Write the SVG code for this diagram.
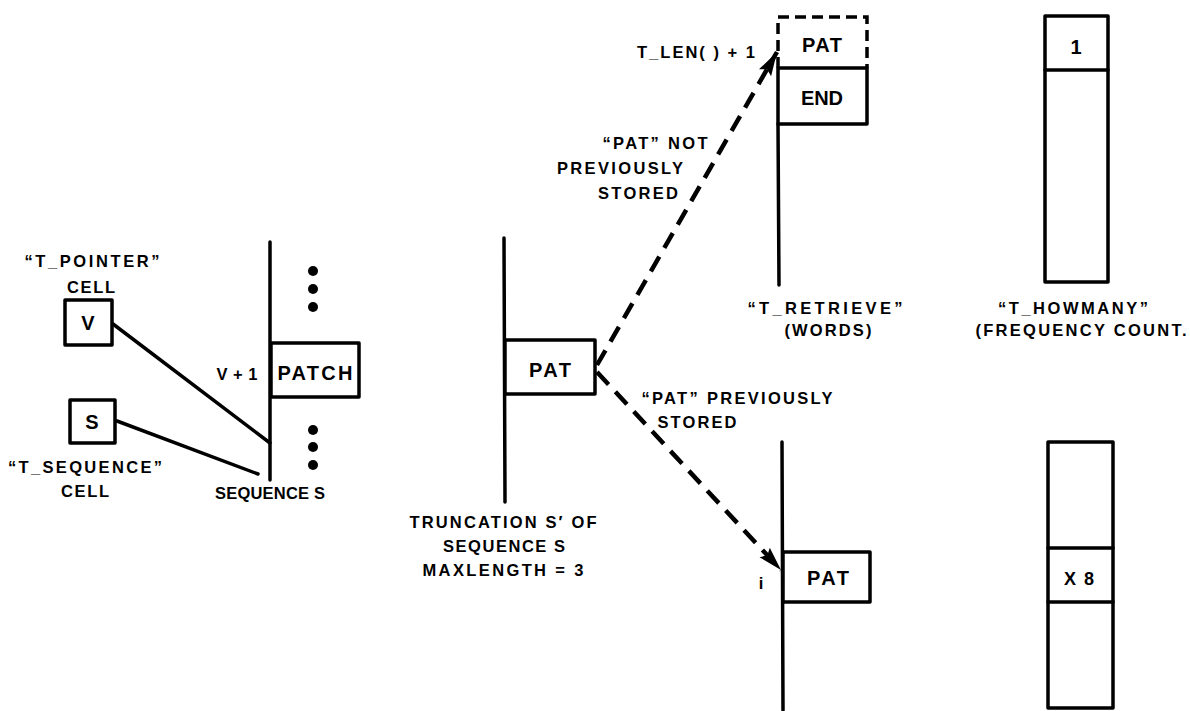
<svg xmlns="http://www.w3.org/2000/svg" width="1190" height="711" viewBox="0 0 1190 711">
<defs>
<style>
.ln{stroke:#000;stroke-width:3.5;fill:none;stroke-linecap:round;stroke-linejoin:round}
.bx{stroke:#000;stroke-width:3.5;fill:#fff;stroke-linejoin:round}
.dash{stroke:#000;stroke-width:4.5;fill:none;stroke-dasharray:17 10}
.t{font-family:"Liberation Sans",Arial,sans-serif;font-weight:bold;font-size:16.5px;fill:#000;text-anchor:middle}
.b{font-size:20px}
</style>
<marker id="ah" markerUnits="userSpaceOnUse" markerWidth="26" markerHeight="18" refX="24" refY="9" orient="auto">
<path d="M0,2 L24,9 L0,16 L4,9 Z" fill="#000"/>
</marker>
</defs>
<rect width="1190" height="711" fill="#fff"/>

<g id="connectors">
<line class="ln" x1="113" y1="324" x2="270" y2="443"/>
<line class="ln" x1="117" y1="421" x2="258" y2="474"/>
<line class="dash" x1="597" y1="365" x2="777" y2="52" marker-end="url(#ah)"/>
<line class="dash" x1="597" y1="372" x2="781" y2="570" marker-end="url(#ah)"/>
</g>

<g id="t_pointer">
<text class="t" x="92" y="267" textLength="135" lengthAdjust="spacing">“T_POINTER”</text>
<text class="t" x="91" y="293" textLength="48" lengthAdjust="spacing">CELL</text>
<rect class="bx" x="65" y="300" width="47" height="45"/>
<text class="t b" x="88" y="330">V</text>
</g>

<g id="t_sequence">
<rect class="bx" x="70" y="400" width="45" height="43"/>
<text class="t b" x="92" y="429">S</text>
<text class="t" x="85" y="473" textLength="154" lengthAdjust="spacing">“T_SEQUENCE”</text>
<text class="t" x="85" y="497" textLength="48" lengthAdjust="spacing">CELL</text>
</g>

<g id="sequence_s">
<line class="ln" x1="270" y1="242" x2="270" y2="480"/>
<circle cx="313" cy="271" r="5"/>
<circle cx="313" cy="289" r="5"/>
<circle cx="313" cy="307" r="5"/>
<rect class="bx" x="271" y="343" width="88" height="54"/>
<text class="t b" x="315" y="380" textLength="75" lengthAdjust="spacing">PATCH</text>
<text class="t" x="237" y="380" textLength="41" lengthAdjust="spacing">V + 1</text>
<circle cx="313" cy="430" r="5"/>
<circle cx="313" cy="447" r="5"/>
<circle cx="313" cy="465" r="5"/>
<text class="t" x="270" y="499" textLength="110" lengthAdjust="spacing">SEQUENCE S</text>
</g>

<g id="truncation">
<line class="ln" x1="504" y1="238" x2="505" y2="502"/>
<rect class="bx" x="505" y="340" width="90" height="54"/>
<text class="t b" x="550" y="377" textLength="42" lengthAdjust="spacing">PAT</text>
<text class="t" x="503" y="528" textLength="187" lengthAdjust="spacing">TRUNCATION S′ OF</text>
<text class="t" x="504" y="552" textLength="122" lengthAdjust="spacing">SEQUENCE S</text>
<text class="t" x="503" y="576" textLength="161" lengthAdjust="spacing">MAXLENGTH = 3</text>
</g>

<g id="label_not_stored">
<text class="t" x="655" y="149" textLength="105" lengthAdjust="spacing">“PAT” NOT</text>
<text class="t" x="620" y="174" textLength="126" lengthAdjust="spacing">PREVIOUSLY</text>
<text class="t" x="638" y="199" textLength="80" lengthAdjust="spacing">STORED</text>
</g>

<g id="label_stored">
<text class="t" x="737" y="404" textLength="191" lengthAdjust="spacing">“PAT” PREVIOUSLY</text>
<text class="t" x="697" y="428" textLength="79" lengthAdjust="spacing">STORED</text>
</g>

<g id="t_retrieve_top">
<path class="dash" d="M778,68 L778,17 L867,17 L867,68" style="stroke-width:3.5;stroke-dasharray:11 6"/>
<rect class="bx" x="778" y="68" width="89" height="56"/>
<line class="ln" x1="778" y1="124" x2="779" y2="285"/>
<text class="t b" x="822" y="52" textLength="40" lengthAdjust="spacing">PAT</text>
<text class="t b" x="822" y="105" textLength="42" lengthAdjust="spacing">END</text>
<text class="t" x="696" y="58" textLength="118" lengthAdjust="spacing">T_LEN( ) + 1</text>
<text class="t" x="825" y="314" textLength="155" lengthAdjust="spacing">“T_RETRIEVE”</text>
<text class="t" x="828" y="336" textLength="87" lengthAdjust="spacing">(WORDS)</text>
</g>

<g id="t_howmany_top">
<rect class="bx" x="1045" y="16" width="63" height="266"/>
<line class="ln" x1="1045" y1="70" x2="1108" y2="70"/>
<text class="t b" x="1076" y="54">1</text>
<text class="t" x="1073" y="314" textLength="150" lengthAdjust="spacing">“T_HOWMANY”</text>
<text class="t" x="1081" y="336" textLength="211" lengthAdjust="spacing">(FREQUENCY COUNT.</text>
</g>

<g id="t_retrieve_bottom">
<line class="ln" x1="782" y1="442" x2="783" y2="710"/>
<rect class="bx" x="783" y="552" width="87" height="50"/>
<text class="t b" x="828" y="585" textLength="42" lengthAdjust="spacing">PAT</text>
<text class="t" x="761" y="589">i</text>
</g>

<g id="t_howmany_bottom">
<rect class="bx" x="1048" y="442" width="65" height="266"/>
<line class="ln" x1="1048" y1="548" x2="1113" y2="548"/>
<line class="ln" x1="1048" y1="602" x2="1113" y2="602"/>
<text class="t" x="1079" y="585" style="font-size:18px" textLength="30" lengthAdjust="spacing">X 8</text>
</g>
</svg>
